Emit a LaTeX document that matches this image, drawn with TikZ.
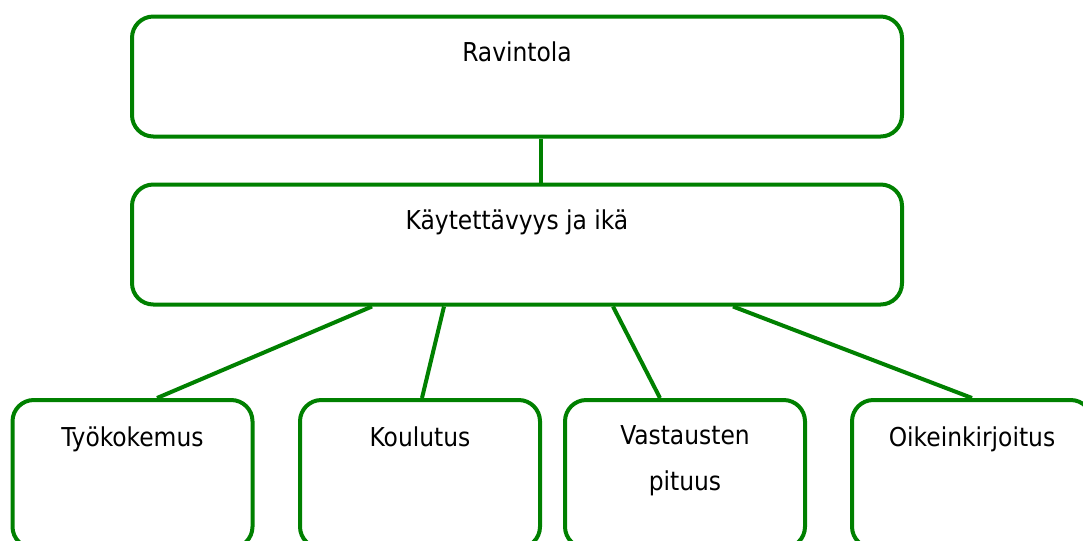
\documentclass[tikz,border=0pt]{standalone}
\usepackage{fontspec}
\setmainfont{DejaVu Sans Condensed}
\definecolor{boxgreen}{RGB}{0,128,0}
\begin{document}
\begin{tikzpicture}[x=0.75pt,y=-0.75pt,
  box/.style={draw=boxgreen,line width=3pt,rounded corners=16pt,inner sep=0pt,fill=white},
  wide/.style={box,minimum width=577.5pt,minimum height=90pt},
  small/.style={box,minimum width=180pt,minimum height=111pt},
  lbl/.style={font=\fontsize{19.5pt}{35pt}\selectfont,inner sep=0pt,anchor=base,align=center},
  link/.style={draw=boxgreen,line width=3pt}]
\useasboundingbox (0,0) rectangle (1083,540);
\begin{scope}
\clip (0,0) rectangle (1083,540);
% levels of the hierarchy
\node[wide] (top) at (517,76.5) {};
\node[wide] (mid) at (517,244.5) {};
\node[small] (a) at (132.5,474) {};
\node[small] (b) at (420,474) {};
\node[small] (c) at (685,474) {};
\node[small] (d) at (972,474) {};
% connectors
\draw[link] ([xshift=18pt]top.south) -- ([xshift=18pt]mid.north);
\draw[link] ([xshift=-108.75pt]mid.south) -- ([xshift=18.4pt]a.north);
\draw[link] ([xshift=-54.75pt]mid.south) -- ([xshift=1.5pt]b.north);
\draw[link] ([xshift=72pt]mid.south) -- ([xshift=-18.75pt]c.north);
\draw[link] ([xshift=162pt]mid.south) -- (d.north);
% labels (a multi-line label sits on its last baseline)
\node[lbl] (ttop) at ([yshift=-35.5pt]top.north) {Ravintola};
\node[lbl] (tmid) at ([yshift=-35pt]mid.north) {Käytettävyys ja ikä};
\node[lbl] (ta) at ([yshift=-36pt]a.north) {Työkokemus};
\node[lbl] (tb) at ([yshift=-36pt]b.north) {Koulutus};
\node[lbl] (tc) at ([yshift=-69.5pt]c.north) {Vastausten\\pituus};
\node[lbl] (td) at ([yshift=-36pt]d.north) {Oikeinkirjoitus};
\end{scope}
\end{tikzpicture}
\end{document}
